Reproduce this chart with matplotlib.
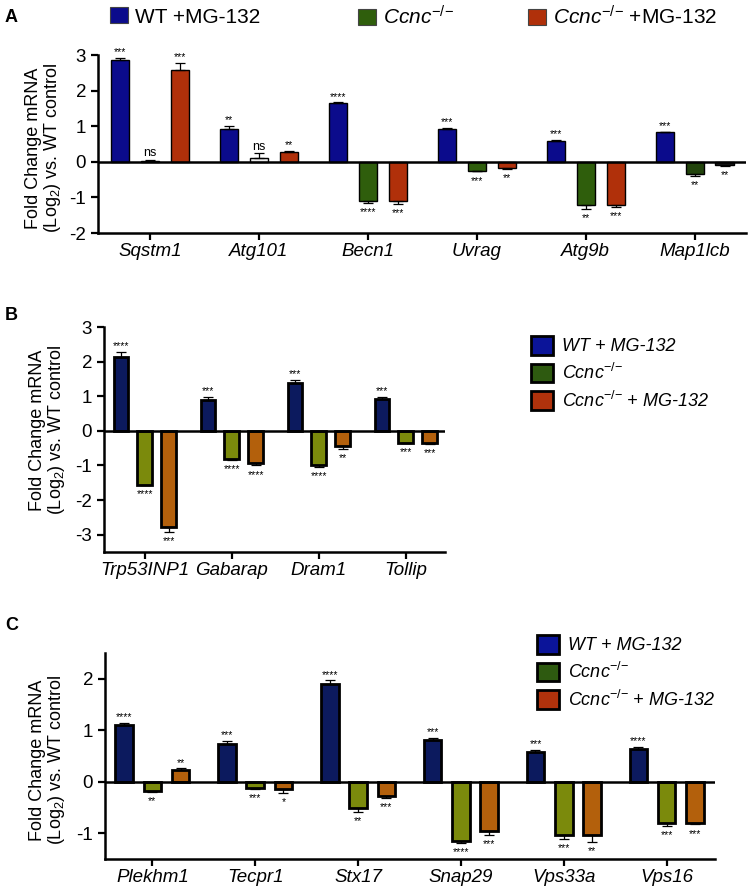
import numpy as np
import matplotlib
matplotlib.use("Agg")
import matplotlib.pyplot as plt
from matplotlib.patches import Patch

plt.rcParams['font.family'] = ['Liberation Sans', 'DejaVu Sans']
plt.rcParams['mathtext.fontset'] = 'custom'
plt.rcParams['mathtext.rm'] = 'Liberation Sans'
plt.rcParams['mathtext.it'] = 'Liberation Sans:italic'
plt.rcParams['axes.unicode_minus'] = False

# ---- panel A data ----
genes_a = ['Sqstm1', 'Atg101', 'Becn1', 'Uvrag', 'Atg9b', 'Map1lcb']
wt_a = [2.85, 0.92, 1.64, 0.92, 0.58, 0.83]
wt_a_err = [0.06, 0.08, 0.03, 0.04, 0.03, 0.02]
ccnc_a = [0.03, 0.10, -1.11, -0.25, -1.20, -0.33]
ccnc_a_err = [0.02, 0.14, 0.05, 0.02, 0.13, 0.06]
mg_a = [2.58, 0.28, -1.11, -0.17, -1.22, -0.10]
mg_a_err = [0.20, 0.02, 0.08, 0.04, 0.05, 0.02]
wt_a_sig = ['***', '**', '****', '***', '***', '***']
ccnc_a_sig = ['ns', 'ns', '****', '***', '**', '**']
mg_a_sig = ['***', '**', '***', '**', '***', '**']

# ---- panel B data ----
genes_b = ['Trp53INP1', 'Gabarap', 'Dram1', 'Tollip']
wt_b = [2.14, 0.90, 1.38, 0.93]
wt_b_err = [0.15, 0.08, 0.10, 0.06]
ccnc_b = [-1.55, -0.81, -0.99, -0.34]
ccnc_b_err = [0.02, 0.04, 0.05, 0.02]
mg_b = [-2.79, -0.94, -0.43, -0.36]
mg_b_err = [0.12, 0.06, 0.08, 0.02]
wt_b_sig = ['****', '***', '***', '***']
ccnc_b_sig = ['****', '****', '****', '***']
mg_b_sig = ['***', '****', '**', '***']

# ---- panel C data ----
genes_c = ['Plekhm1', 'Tecpr1', 'Stx17', 'Snap29', 'Vps33a', 'Vps16']
wt_c = [1.10, 0.74, 1.90, 0.81, 0.58, 0.63]
wt_c_err = [0.04, 0.05, 0.07, 0.04, 0.04, 0.05]
ccnc_c = [-0.17, -0.12, -0.51, -1.15, -1.03, -0.81]
ccnc_c_err = [0.02, 0.02, 0.08, 0.04, 0.08, 0.04]
mg_c = [0.22, -0.15, -0.28, -0.96, -1.03, -0.81]
mg_c_err = [0.04, 0.06, 0.04, 0.07, 0.14, 0.02]
wt_c_sig = ['****', '***', '****', '***', '***', '****']
ccnc_c_sig = ['**', '***', '**', '****', '***', '***']
mg_c_sig = ['**', '*', '***', '***', '**', '***']

W, H = 748, 890
fig = plt.figure(figsize=(W / 100, H / 100), dpi=100)


def box(l, r, t, b):
    return [l / W, 1 - b / H, (r - l) / W, (b - t) / H]


def panel(ax, genes, series, errs, sigs, colors, ylim, yticks, xlim, elw):
    x = np.arange(len(genes))
    off = [-0.275, 0, 0.275]
    for k in range(3):
        vals = np.array(series[k])
        e = np.array(errs[k])
        lo = np.where(vals < 0, e, 0)
        hi = np.where(vals >= 0, e, 0)
        ax.bar(x + off[k], vals, 0.17, color=colors[k], edgecolor='black',
               linewidth=elw, zorder=2)
        ax.errorbar(x + off[k], vals, yerr=[lo, hi], fmt='none', ecolor='black',
                    elinewidth=0.9, capsize=3.5, capthick=0.9, zorder=3)
        for i, s in enumerate(sigs[k]):
            fs = 9 if s == 'ns' else 7.5
            if vals[i] >= 0:
                ax.annotate(s, (x[i] + off[k], vals[i] + e[i]), xytext=(0, 0.5),
                            textcoords='offset points', ha='center', va='bottom',
                            fontsize=fs)
            else:
                ax.annotate(s, (x[i] + off[k], vals[i] - e[i]), xytext=(0, -3),
                            textcoords='offset points', ha='center', va='top',
                            fontsize=fs)
    ax.axhline(0, color='black', lw=1.8, zorder=4)
    ax.set_xlim(*xlim)
    ax.set_ylim(*ylim)
    ax.set_yticks(yticks)
    ax.set_xticks(x)
    ax.set_xticklabels(genes, fontstyle='italic')
    for sp in ['top', 'right']:
        ax.spines[sp].set_visible(False)
    for sp in ['left', 'bottom']:
        ax.spines[sp].set_linewidth(1.8)
    ax.tick_params(direction='out', length=5, width=1.6, labelsize=13.5)
    ax.tick_params(axis='x', pad=2)


ylab = 'Fold Change mRNA\n(Log$_2$) vs. WT control'
ko = r'$\mathit{Ccnc}^{{-}/{-}}$'

# ---- A ----
axa = fig.add_axes(box(98, 746, 55, 233))
cols_a = ['#0b0b8c', '#2f5e0c', '#b0300a']
panel(axa, genes_a, [wt_a, ccnc_a, mg_a], [wt_a_err, ccnc_a_err, mg_a_err],
      [wt_a_sig, ccnc_a_sig, mg_a_sig], cols_a, (-2, 3), [-2, -1, 0, 1, 2, 3],
      (-0.477, 5.47), 1.0)
# odd bars in panel A
ccnc_bars = axa.containers[2]
ccnc_bars[1].set_facecolor('#ececec')
ccnc_bars[5].set_facecolor('#22440c')
axa.containers[4][5].set_facecolor('#1a1a1a')
fig.text(44 / W, 1 - 148 / H, ylab, rotation=90, ha='center', va='center',
         fontsize=13, linespacing=1.05)
fig.text(5 / W, 1 - 17 / H, 'A', fontsize=13, fontweight='bold', va='center')
labs_a = ['WT +MG-132', ko, ko + ' +MG-132']
xs_a = [110, 358, 528]
for c, lab, xp in zip(cols_a, labs_a, xs_a):
    fig.legend([Patch(facecolor=c, edgecolor='#444444', linewidth=0.8)], [lab],
               loc='center left', bbox_to_anchor=(xp / W, 1 - 17 / H),
               frameon=False, fontsize=15, handlelength=0.85, handleheight=0.8,
               handletextpad=0.35, borderpad=0, borderaxespad=0)

# ---- B/C colours ----
cols_bc = ['#0c1a5e', '#7b8a0c', '#b3600c']
cols_leg = ['#0b1499', '#2e5a10', '#b0320c']
ko_i = r'Ccnc$^{\mathit{{-}/{-}}}$'
labs_bc = ['WT + MG-132', ko_i, ko_i + ' + MG-132']
hBC = [Patch(facecolor=c, edgecolor='black', linewidth=2.0) for c in cols_leg]

# ---- B ----
axb = fig.add_axes(box(104, 445, 327, 552))
panel(axb, genes_b, [wt_b, ccnc_b, mg_b], [wt_b_err, ccnc_b_err, mg_b_err],
      [wt_b_sig, ccnc_b_sig, mg_b_sig], cols_bc, (-3.5, 3),
      [-3, -2, -1, 0, 1, 2, 3], (-0.47, 3.45), 2.0)
fig.text(48 / W, 1 - 430 / H, ylab, rotation=90, ha='center', va='center',
         fontsize=13, linespacing=1.05)
fig.text(5 / W, 1 - 315 / H, 'B', fontsize=13, fontweight='bold', va='center')
fig.legend(hBC, labs_bc, loc='upper left', bbox_to_anchor=(531 / W, 1 - 336 / H),
           frameon=False, prop={'style': 'italic', 'size': 13},
           handlelength=1.2, handleheight=1.2, handletextpad=0.5,
           labelspacing=0.42, borderpad=0, borderaxespad=0)

# ---- C ----
axc = fig.add_axes(box(105, 715, 653, 859))
panel(axc, genes_c, [wt_c, ccnc_c, mg_c], [wt_c_err, ccnc_c_err, mg_c_err],
      [wt_c_sig, ccnc_c_sig, mg_c_sig], cols_bc, (-1.5, 2.5),
      [-1, 0, 1, 2], (-0.46, 5.47), 2.0)
fig.text(48 / W, 1 - 760 / H, ylab, rotation=90, ha='center', va='center',
         fontsize=13, linespacing=1.05)
fig.text(5 / W, 1 - 625 / H, 'C', fontsize=13, fontweight='bold', va='center')
fig.legend(hBC, labs_bc, loc='upper left', bbox_to_anchor=(537 / W, 1 - 635 / H),
           frameon=False, prop={'style': 'italic', 'size': 13},
           handlelength=1.2, handleheight=1.2, handletextpad=0.5,
           labelspacing=0.42, borderpad=0, borderaxespad=0)

fig.savefig('out.png', dpi=100)
